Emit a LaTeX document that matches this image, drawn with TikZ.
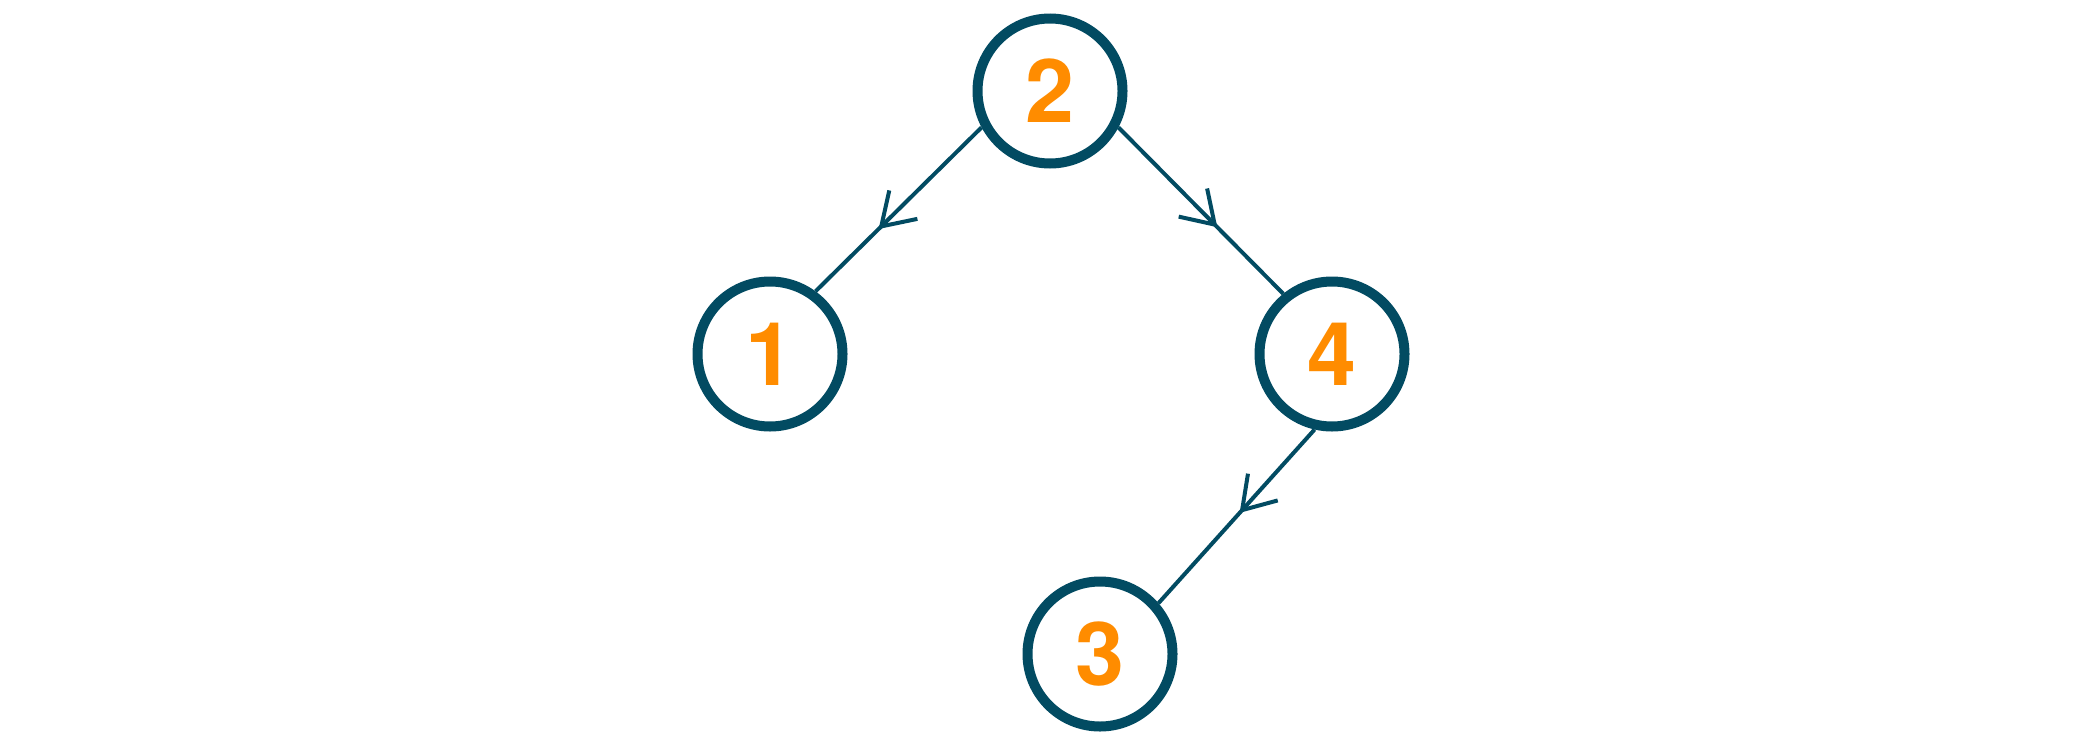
\documentclass[tikz,border=0pt]{standalone}
\usepackage{fontspec}
\setmainfont{TeX Gyre Heros}
\usetikzlibrary{arrows.meta,decorations.markings}
\definecolor{edgeblue}{HTML}{024B62}
\definecolor{numorange}{HTML}{FF8C00}
\begin{document}
\begin{tikzpicture}[x=1pt,y=-1pt,
  treenode/.style={circle, draw=edgeblue, line width=10pt, minimum size=145pt, inner sep=0pt, text=numorange, font=\fontsize{88}{88}\selectfont\bfseries},
  treeedge/.style={color=edgeblue, line width=4pt, postaction={decorate}, decoration={markings, mark=at position #1 with {\arrow{Straight Barb[length=31pt,width=40pt,line width=4pt]}}}},
]
\useasboundingbox (0,0) rectangle (2100,747);
\node[treenode] (n2) at (1050,91) {2};
\node[treenode] (n1) at (770,354) {1};
\node[treenode] (n4) at (1332,354) {4};
\node[treenode] (n3) at (1100,654) {3};
\draw[treeedge=0.62] (n2.208.5) -- (n1.54);
\draw[treeedge=0.6] (n2.332) -- (n4.129);
\draw[treeedge=0.48] (n4.257.4) -- (n3.41);
\end{tikzpicture}
\end{document}
